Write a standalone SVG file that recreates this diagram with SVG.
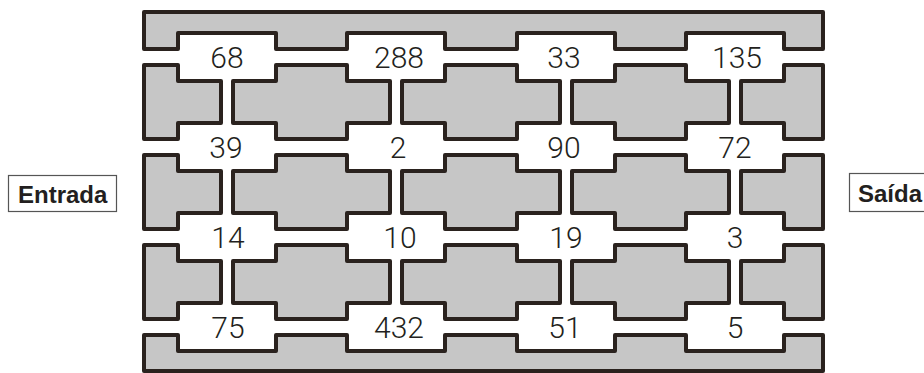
<svg xmlns="http://www.w3.org/2000/svg" xmlns:xlink="http://www.w3.org/1999/xlink" width="924" height="373" viewBox="0 0 924 373">
  <style>
    .wall { fill: #c6c6c6; stroke: #2a221e; stroke-width: 4; stroke-linejoin: round; }
    .num { font-family: Roboto, "Liberation Sans", sans-serif; font-weight: 300; font-size: 30px; fill: #231f20; text-anchor: middle; }
    .lbl { font-family: "Liberation Sans", Arial, sans-serif; font-weight: bold; font-size: 24px; fill: #231f20; }
    .lblbox { fill: #ffffff; stroke: #555555; stroke-width: 1.2; }
  </style>
  <defs>
    <g id="blockrow">
      <polygon class="wall" points="144,65 178,65 178,81 221,81 221,123 178,123 178,139 144,139"/>
      <polygon class="wall" points="276,65 347,65 347,81 390,81 390,123 347,123 347,139 276,139 276,123 233,123 233,81 276,81"/>
      <polygon class="wall" points="445,65 517,65 517,81 560,81 560,123 517,123 517,139 445,139 445,123 402,123 402,81 445,81"/>
      <polygon class="wall" points="615,65 686,65 686,81 729,81 729,123 686,123 686,139 615,139 615,123 572,123 572,81 615,81"/>
      <polygon class="wall" points="784,65 823,65 823,139 784,139 784,123 741,123 741,81 784,81"/>
    </g>
  </defs>
  <rect width="924" height="373" fill="#ffffff"/>
  <g id="maze">
    <polygon class="wall" points="144,12 823,12 823,49 784,49 784,33 686,33 686,49 615,49 615,33 517,33 517,49 445,49 445,33 347,33 347,49 276,49 276,33 178,33 178,49 144,49"/>
    <use xlink:href="#blockrow"/>
    <use xlink:href="#blockrow" transform="translate(0,90)"/>
    <use xlink:href="#blockrow" transform="translate(0,180)"/>
    <polygon class="wall" points="144,335 178,335 178,351 276,351 276,335 347,335 347,351 445,351 445,335 517,335 517,351 615,351 615,335 686,335 686,351 784,351 784,335 823,335 823,371 144,371"/>
  </g>
  <g id="room-68"><text class="num" x="227" y="68">68</text></g>
  <g id="room-288"><text class="num" x="399" y="68">288</text></g>
  <g id="room-33"><text class="num" x="564" y="68">33</text></g>
  <g id="room-135"><text class="num" x="737" y="68">135</text></g>
  <g id="room-39"><text class="num" x="226" y="158">39</text></g>
  <g id="room-2"><text class="num" x="398" y="158">2</text></g>
  <g id="room-90"><text class="num" x="564" y="158">90</text></g>
  <g id="room-72"><text class="num" x="735" y="158">72</text></g>
  <g id="room-14"><text class="num" x="228" y="248">14</text></g>
  <g id="room-10"><text class="num" x="400" y="248">10</text></g>
  <g id="room-19"><text class="num" x="566" y="248">19</text></g>
  <g id="room-3"><text class="num" x="735" y="248">3</text></g>
  <g id="room-75"><text class="num" x="228" y="338">75</text></g>
  <g id="room-432"><text class="num" x="399" y="338">432</text></g>
  <g id="room-51"><text class="num" x="565" y="338">51</text></g>
  <g id="room-5"><text class="num" x="735" y="338">5</text></g>
  <g id="entrada">
    <rect class="lblbox" x="8.5" y="175.5" width="108" height="36"/>
    <text class="lbl" x="18" y="203">Entrada</text>
  </g>
  <g id="saida">
    <rect class="lblbox" x="849.5" y="173.5" width="80" height="38"/>
    <text class="lbl" x="858" y="201.5">Saída</text>
  </g>
</svg>
